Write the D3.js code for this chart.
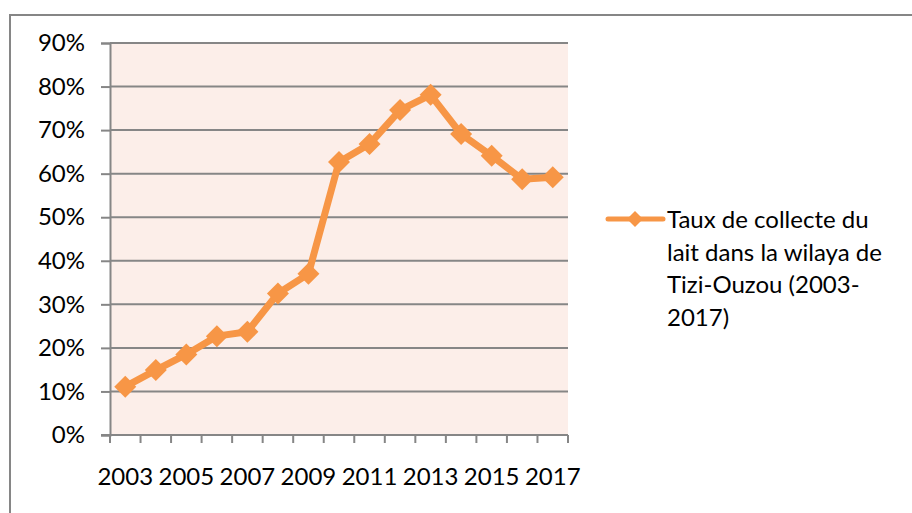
<!DOCTYPE html>
<html><head><meta charset="utf-8">
<script src="https://cdn.jsdelivr.net/npm/d3@7"></script>
<style>
html,body{margin:0;padding:0;background:#fff;}
svg{display:block;}
text{font-family:Lato,"Open Sans",sans-serif;fill:#000;}
</style></head>
<body>
<svg id="c" width="912" height="513"></svg>
<script>
const years = ["2003","2004","2005","2006","2007","2008","2009","2010","2011","2012","2013","2014","2015","2016","2017"];
const values = [0.111,0.149,0.185,0.227,0.237,0.325,0.370,0.627,0.668,0.746,0.781,0.691,0.641,0.587,0.592];
const yTicks = [0,0.1,0.2,0.3,0.4,0.5,0.6,0.7,0.8,0.9];
const xLabels = ["2003","2005","2007","2009","2011","2013","2015","2017"];
const legendLines = ["Taux de collecte du","lait dans la wilaya de","Tizi-Ouzou (2003-","2017)"];

const svg = d3.select("#c");
const L = 110, R = 568, T = 43, B = 435;
const gray = "#868686", orange = "#F79646";
const fs = 24;

svg.append("rect").attr("x",10).attr("y",15).attr("width",1000).attr("height",600)
  .attr("fill","none").attr("stroke",gray).attr("stroke-width",2);

const x = d3.scaleBand().domain(years).range([L,R]).padding(0);
const y = d3.scaleLinear().domain([0,0.9]).range([B,T]);

svg.append("rect").attr("x",L).attr("y",T).attr("width",R-L).attr("height",B-T).attr("fill","#FCEEE9");

const yAxis = d3.axisLeft(y).tickValues(yTicks).tickFormat(d3.format(".0%")).tickSize(9).tickPadding(16);
const gy = svg.append("g").attr("transform",`translate(${L},0)`).call(yAxis);
gy.select(".domain").attr("stroke",gray).attr("stroke-width",2);
gy.selectAll(".tick line").attr("stroke",gray).attr("stroke-width",2);
gy.selectAll(".tick text").attr("font-size",fs).attr("fill","#000").attr("font-family","Lato");
svg.append("g").selectAll("line").data(yTicks.filter(d=>d>0)).join("line")
  .attr("x1",L).attr("x2",R).attr("y1",d=>y(d)).attr("y2",d=>y(d))
  .attr("stroke",gray).attr("stroke-width",2);

const gx = svg.append("g").attr("transform",`translate(0,${B})`);
gx.append("line").attr("x1",L-9).attr("x2",R).attr("y1",0).attr("y2",0).attr("stroke",gray).attr("stroke-width",2);
const bounds = years.map(d=>x(d)).concat([R]);
gx.selectAll("line.t").data(bounds).join("line").attr("class","t")
  .attr("x1",d=>d).attr("x2",d=>d).attr("y1",0).attr("y2",8).attr("stroke",gray).attr("stroke-width",2);
gx.selectAll("text").data(xLabels).join("text")
  .attr("x",d=>x(d)+x.bandwidth()/2).attr("y",50).attr("text-anchor","middle")
  .attr("font-size",fs).text(d=>d);

const cx = d=>x(d)+x.bandwidth()/2;
const line = d3.line().x((d,i)=>cx(years[i])).y(d=>y(d));
svg.append("path").datum(values).attr("d",line).attr("fill","none")
  .attr("stroke",orange).attr("stroke-width",7).attr("stroke-linejoin","round");
const diamond = s => `M0,${-s}L${s},0L0,${s}L${-s},0Z`;
svg.append("g").selectAll("path").data(values).join("path")
  .attr("transform",(d,i)=>`translate(${cx(years[i])},${y(d)})`)
  .attr("d",diamond(11)).attr("fill",orange);

const lg = svg.append("g");
lg.append("line").attr("x1",608).attr("x2",663).attr("y1",219).attr("y2",219)
  .attr("stroke",orange).attr("stroke-width",5).attr("stroke-linecap","round");
lg.append("path").attr("transform","translate(635,219)").attr("d",diamond(8)).attr("fill",orange);
lg.selectAll("text").data(legendLines).join("text")
  .attr("x",667).attr("y",(d,i)=>228+i*32.7).attr("font-size",fs).text(d=>d);
</script>
</body></html>
